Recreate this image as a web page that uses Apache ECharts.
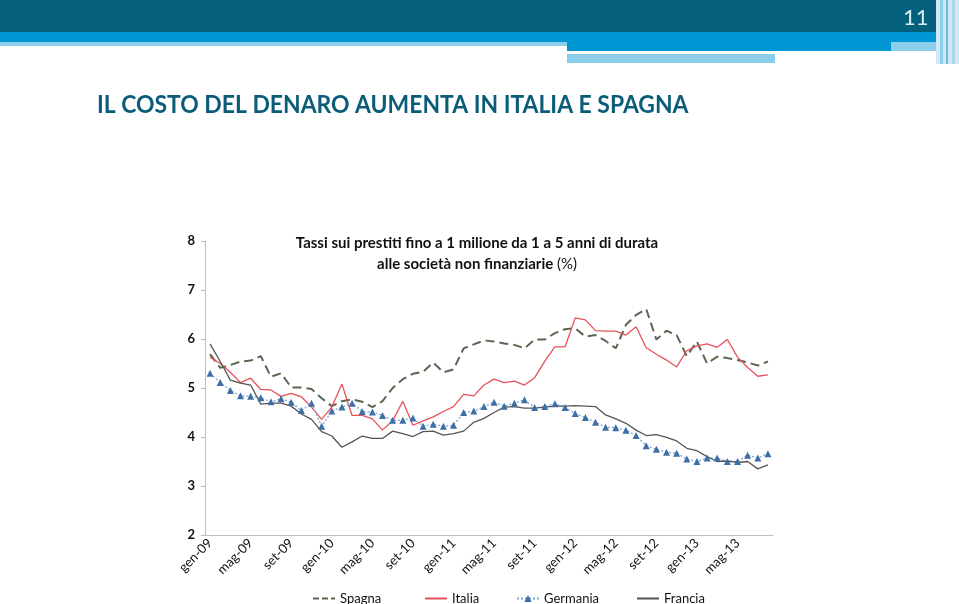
<!DOCTYPE html>
<html><head><meta charset="utf-8">
<script src="https://cdn.jsdelivr.net/npm/echarts@6/dist/echarts.min.js"></script>
<style>html,body{margin:0;padding:0;background:#fff}#c{width:959px;height:604px}</style>
</head><body><div id="c"></div>
<script>
const categories = ['gen-09','feb-09','mar-09','apr-09','mag-09','giu-09','lug-09','ago-09','set-09','ott-09','nov-09','dic-09',
'gen-10','feb-10','mar-10','apr-10','mag-10','giu-10','lug-10','ago-10','set-10','ott-10','nov-10','dic-10',
'gen-11','feb-11','mar-11','apr-11','mag-11','giu-11','lug-11','ago-11','set-11','ott-11','nov-11','dic-11',
'gen-12','feb-12','mar-12','apr-12','mag-12','giu-12','lug-12','ago-12','set-12','ott-12','nov-12','dic-12',
'gen-13','feb-13','mar-13','apr-13','mag-13','giu-13','lug-13','ago-13'];
const spagna = [5.69,5.41,5.47,5.54,5.56,5.65,5.23,5.30,5.01,5.01,4.98,4.79,4.63,4.73,4.77,4.72,4.61,4.73,5.00,5.18,
5.29,5.33,5.52,5.32,5.38,5.81,5.89,5.97,5.95,5.91,5.88,5.81,5.99,5.99,6.12,6.20,6.22,6.05,6.08,5.96,
5.81,6.29,6.49,6.61,5.99,6.17,6.08,5.65,5.95,5.50,5.64,5.61,5.57,5.52,5.46,5.54];
const italia = [5.63,5.50,5.32,5.11,5.20,4.97,4.96,4.83,4.89,4.82,4.61,4.36,4.61,5.08,4.44,4.44,4.37,4.14,4.33,4.73,
4.24,4.33,4.41,4.52,4.62,4.87,4.84,5.06,5.18,5.11,5.14,5.06,5.21,5.55,5.84,5.84,6.43,6.39,6.17,6.16,
6.16,6.08,6.25,5.82,5.69,5.57,5.43,5.76,5.86,5.90,5.83,5.99,5.63,5.42,5.24,5.27];
const germania = [5.30,5.11,4.95,4.84,4.83,4.80,4.72,4.78,4.71,4.54,4.69,4.22,4.53,4.61,4.69,4.52,4.51,4.44,4.34,4.34,
4.39,4.22,4.26,4.22,4.24,4.50,4.53,4.62,4.71,4.63,4.69,4.76,4.60,4.62,4.68,4.60,4.48,4.40,4.30,4.20,
4.19,4.14,4.03,3.82,3.75,3.69,3.67,3.55,3.50,3.57,3.57,3.50,3.50,3.63,3.57,3.66];
const francia = [5.90,5.54,5.16,5.10,5.06,4.67,4.69,4.69,4.63,4.47,4.36,4.11,4.02,3.79,3.90,4.02,3.97,3.97,4.12,4.07,
4.01,4.11,4.12,4.04,4.07,4.12,4.30,4.38,4.50,4.61,4.62,4.59,4.59,4.61,4.63,4.63,4.64,4.63,4.62,4.45,
4.37,4.28,4.14,4.03,4.05,3.99,3.92,3.77,3.72,3.60,3.50,3.51,3.48,3.50,3.35,3.43];
const seriesNames = ['Spagna','Italia','Germania','Francia'];

const FONT = 'Lato, "Open Sans", sans-serif';
const C_SP = '#5B6650', C_IT = '#E5525A', C_GE = '#3D6FA6', C_GE_LINE = '#7FA7D3', C_FR = '#555555';
const legendLeft = [307, 419, 511, 631];
const legendBase = {top:587, itemWidth:22, itemHeight:9, textStyle:{fontSize:13, color:'#111', fontFamily:FONT}};
const legendItems = [
  {name:seriesNames[0], itemStyle:{opacity:0}, lineStyle:{type:[6,3], width:2}},
  {name:seriesNames[1], itemStyle:{opacity:0}},
  {name:seriesNames[2]},
  {name:seriesNames[3], itemStyle:{opacity:0}}
];
const chart = echarts.init(document.getElementById('c'), null, {renderer:'canvas'});
chart.setOption({
  animation:false,
  textStyle:{fontFamily:FONT},
  graphic:[
    {type:'rect', shape:{x:0,y:0,width:959,height:32}, style:{fill:'#05607B'}},
    {type:'rect', shape:{x:0,y:32,width:936,height:10}, style:{fill:'#0096D4'}},
    {type:'rect', shape:{x:0,y:42,width:567,height:4}, style:{fill:'#8BCFEB'}},
    {type:'rect', shape:{x:567,y:42,width:324,height:9}, style:{fill:'#0096D4'}},
    {type:'rect', shape:{x:891,y:42,width:45,height:9}, style:{fill:'#8BCFEB'}},
    {type:'rect', shape:{x:567,y:54,width:208,height:9}, style:{fill:'#8BCFEB'}},
    {type:'rect', shape:{x:936,y:0,width:23,height:64}, style:{fill:'#cfe8f4'}},
    {type:'rect', shape:{x:940,y:0,width:3,height:64}, style:{fill:'#8BCFEB'}},
    {type:'rect', shape:{x:946,y:0,width:2,height:64}, style:{fill:'#6bb8dc'}},
    {type:'rect', shape:{x:952,y:0,width:3,height:64}, style:{fill:'#a6d9ef'}},
    {type:'text', x:903, y:7, style:{text:'11', font:'22px '+FONT, fill:'#d8eef6'}},
    {type:'text', x:97, y:92, scaleX:0.898, style:{text:'IL COSTO DEL DENARO AUMENTA IN ITALIA E SPAGNA', font:'bold 25.5px '+FONT, fill:'#0B5C78'}},
    {type:'text', x:477, y:236, style:{text:'Tassi sui prestiti fino a 1 milione da 1 a 5 anni di durata', font:'bold 15px '+FONT, fill:'#111', align:'center', verticalAlign:'top'}},
    {type:'text', x:477, y:257, style:{text:'{b|alle società non finanziarie }{n|(%)}', align:'center', verticalAlign:'top',
      rich:{b:{font:'bold 15px '+FONT, fill:'#111', color:'#111'}, n:{font:'15px '+FONT, fill:'#111', color:'#111'}}}}
  ],
  grid:{left:205, right:186, top:241, bottom:69, containLabel:false},
  legend: legendItems.map((it, i) => Object.assign({}, legendBase, {left:legendLeft[i], data:[it]})),
  xAxis:{
    type:'category', data:categories, boundaryGap:true,
    axisLine:{lineStyle:{color:'#bfbfbf', width:1}},
    axisTick:{interval:3, length:5, lineStyle:{color:'#bfbfbf'}},
    axisLabel:{interval:3, rotate:45, fontSize:13, color:'#111', margin:6}
  },
  yAxis:{
    type:'value', min:2, max:8, interval:1,
    axisLine:{show:true, lineStyle:{color:'#bfbfbf', width:1}},
    axisTick:{show:true, length:4, lineStyle:{color:'#bfbfbf'}},
    splitLine:{show:false},
    axisLabel:{fontSize:13, color:'#111', fontWeight:'bold', margin:10}
  },
  series:[
    {name:'Spagna', type:'line', data:spagna, symbol:'none', color:C_SP,
     lineStyle:{type:[9,5], width:2, color:C_SP}},
    {name:'Italia', type:'line', data:italia, symbol:'none', color:C_IT,
     lineStyle:{width:1.3, color:C_IT}},
    {name:'Germania', type:'line', data:germania, symbol:'triangle', symbolSize:7, showAllSymbol:true, color:C_GE,
     itemStyle:{color:C_GE}, lineStyle:{type:[2,2], width:1.3, color:C_GE_LINE}},
    {name:'Francia', type:'line', data:francia, symbol:'none', color:C_FR,
     lineStyle:{width:1.3, color:C_FR}}
  ]
});
</script></body></html>
